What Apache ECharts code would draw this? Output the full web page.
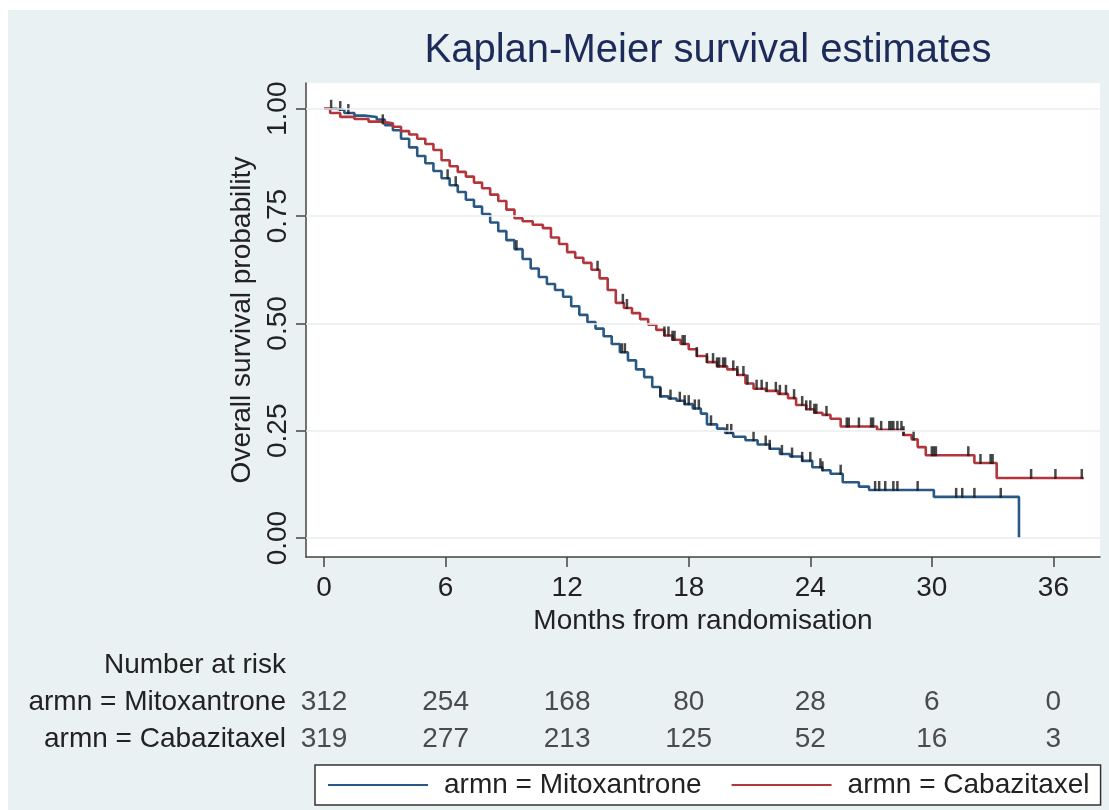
<!DOCTYPE html>
<html>
<head>
<meta charset="utf-8">
<script src="https://cdn.jsdelivr.net/npm/echarts@6/dist/echarts.min.js"></script>
<style>
html,body{margin:0;padding:0;background:#fff;}
#chart{width:1109px;height:810px;}
</style>
</head>
<body>
<div id="chart"></div>
<script>
// ---- data ----
const months = [0, 6, 12, 18, 24, 30, 36];
const yTicks = [0, 0.25, 0.5, 0.75, 1];
const riskMitox = [312, 254, 168, 80, 28, 6, 0];
const riskCabaz = [319, 277, 213, 125, 52, 16, 3];

const mitoxTime = [0,0.6,1.0,1.5,2.0,2.6,3.0,3.4,3.8,4.2,4.6,5.0,5.4,5.8,6.2,6.6,7.0,7.4,7.8,8.2,8.6,9.0,9.4,9.8,10.2,10.6,11.0,11.4,11.8,12.2,12.6,13.0,13.4,13.8,14.2,14.6,15.0,15.4,15.8,16.2,16.6,17.0,17.4,17.8,18.2,18.6,18.9,19.4,19.8,20.2,20.8,21.4,22.0,22.5,23.0,23.6,24.1,24.6,25.0,25.6,26.4,26.9,30.1,34.3];
const mitoxSurv = [1.000,0.997,0.990,0.984,0.981,0.975,0.962,0.950,0.930,0.910,0.890,0.873,0.855,0.838,0.822,0.806,0.788,0.772,0.755,0.735,0.715,0.694,0.673,0.650,0.628,0.608,0.592,0.578,0.562,0.540,0.520,0.503,0.488,0.470,0.452,0.433,0.414,0.393,0.375,0.352,0.330,0.325,0.320,0.312,0.302,0.290,0.265,0.255,0.245,0.236,0.228,0.218,0.208,0.196,0.190,0.180,0.165,0.158,0.150,0.130,0.120,0.112,0.096,0.000];

const cabazTime = [0,0.3,0.8,1.5,2.2,2.8,3.4,3.8,4.2,4.6,5.0,5.4,5.8,6.2,6.6,7.0,7.4,7.8,8.2,8.6,9.0,9.4,9.8,10.3,10.8,11.2,11.6,12.0,12.4,12.8,13.2,13.6,14.0,14.4,14.8,15.2,15.6,16.0,16.4,16.8,17.2,17.6,18.0,18.4,18.9,19.4,19.9,20.4,20.8,21.2,21.8,22.4,22.9,23.3,23.8,24.2,24.6,25.0,25.5,27.3,28.6,29.0,29.3,29.7,32.1,33.2,37.5];
const cabazSurv = [1.000,0.990,0.981,0.976,0.970,0.966,0.958,0.948,0.940,0.930,0.918,0.904,0.880,0.866,0.853,0.842,0.828,0.815,0.800,0.785,0.765,0.745,0.738,0.730,0.722,0.700,0.685,0.666,0.653,0.641,0.625,0.605,0.578,0.548,0.536,0.524,0.510,0.497,0.485,0.472,0.462,0.452,0.440,0.424,0.410,0.400,0.393,0.380,0.360,0.348,0.343,0.336,0.326,0.310,0.300,0.292,0.287,0.278,0.260,0.252,0.240,0.230,0.212,0.193,0.175,0.140,0.140];

const mitoxCensor = [0.35,0.8,1.2,6.1,6.5,9.5,14.7,14.85,16.6,17.1,17.56,17.8,18.0,18.3,18.5,19.1,19.9,20.1,21.2,21.8,22.0,22.6,23.1,23.6,24.0,24.5,24.6,25.5,27.2,27.4,27.7,28.1,28.3,29.3,31.2,31.5,32.1,33.4];
const cabazCensor = [2.9,13.5,14.75,14.95,16.8,17.0,17.2,17.3,17.7,17.8,18.4,18.9,19.2,19.4,19.5,19.7,19.8,20.2,20.4,20.7,20.9,21.35,21.6,21.85,22.3,22.5,22.8,23.2,23.6,23.8,24.0,24.2,24.3,24.8,25.8,25.9,26.4,27.0,27.1,27.5,27.9,28.0,28.1,28.3,28.5,28.6,29.1,30.0,30.1,30.2,31.8,32.4,32.9,33.0,34.9,36.1,37.4];

// ---- helpers ----
function pairs(t, s) { return t.map((v, i) => [v, s[i]]); }
function survAt(t, s, c) {
  let v = s[0];
  for (let i = 0; i < t.length; i++) { if (t[i] <= c) v = s[i]; else break; }
  return v;
}
function censorPts(t, s, cs) { return cs.map(c => [c, survAt(t, s, c)]); }

const FONT = 'Liberation Sans, Arial, sans-serif';
const TXT = '#222';
const BLUE = '#2a5885';
const RED = '#b3363c';

const chart = echarts.init(document.getElementById('chart'));
const X_MIN = -0.89, X_MAX = 38.3;

const option = {
  animation: false,
  backgroundColor: '#ffffff',
  textStyle: { fontFamily: FONT },
  graphic: [
    { type: 'rect', z: -10, shape: { x: 8, y: 10, width: 1101, height: 800 }, style: { fill: '#eaf1f3' } },
    { type: 'text', x: 286, y: 665, style: { text: 'Number at risk', font: '28px ' + FONT, fill: TXT, textAlign: 'right', textVerticalAlign: 'middle' } }
  ],
  title: {
    text: 'Kaplan-Meier survival estimates',
    left: 703, top: 26, textAlign: 'center',
    textStyle: { fontFamily: FONT, fontSize: 40, fontWeight: 'normal', color: '#1d2b5a' }
  },
  legend: {
    data: ['armn = Mitoxantrone', 'armn = Cabazitaxel'],
    left: 315, top: 765,
    icon: 'rect', itemWidth: 100, itemHeight: 2, itemGap: 30,
    backgroundColor: '#ffffff', borderColor: '#333', borderWidth: 1.5,
    padding: [6, 11, 6, 13],
    textStyle: { fontFamily: FONT, fontSize: 28, color: TXT, padding: [0, 0, 0, 11] }
  },
  grid: [
    { left: 306, top: 83, width: 794, height: 474, show: true, backgroundColor: '#ffffff', borderWidth: 0 },
    { left: 306, top: 684, width: 794, height: 74, show: false }
  ],
  xAxis: [
    {
      type: 'value', gridIndex: 0, min: X_MIN, max: X_MAX,
      name: 'Months from randomisation', nameLocation: 'middle', nameGap: 42,
      nameTextStyle: { fontFamily: FONT, fontSize: 28, color: TXT },
      axisLine: { show: true, onZero: false, lineStyle: { color: '#444', width: 1.5 } },
      axisTick: { show: true, customValues: months, length: 10, lineStyle: { color: '#444', width: 1.5 } },
      axisLabel: { customValues: months, fontFamily: FONT, fontSize: 28, color: TXT, margin: 17 },
      splitLine: { show: false }
    },
    {
      type: 'value', gridIndex: 1, min: X_MIN, max: X_MAX, show: false
    }
  ],
  yAxis: [
    {
      type: 'value', gridIndex: 0, min: -0.044, max: 1.06,
      name: 'Overall survival probability', nameLocation: 'middle', nameGap: 46, nameRotate: 90,
      nameTextStyle: { fontFamily: FONT, fontSize: 28, color: TXT },
      axisLine: { show: true, onZero: false, lineStyle: { color: '#444', width: 1.5 } },
      axisTick: { show: true, customValues: yTicks, length: 10, lineStyle: { color: '#444', width: 1.5 } },
      axisLabel: { customValues: yTicks, rotate: 90, formatter: v => v.toFixed(2), fontFamily: FONT, fontSize: 28, color: TXT, margin: 14 },
      splitLine: { show: false }
    },
    {
      type: 'category', gridIndex: 1, data: ['Cabazitaxel', 'Mitoxantrone'],
      axisLine: { show: false }, axisTick: { show: false },
      axisLabel: { formatter: n => 'armn = ' + n, fontFamily: FONT, fontSize: 28, color: TXT, margin: 20 }
    }
  ],
  series: [
    {
      type: 'line', name: 'gridlines', xAxisIndex: 0, yAxisIndex: 0, data: [], z: 1, silent: true,
      markLine: {
        silent: true, symbol: 'none', label: { show: false }, animation: false,
        lineStyle: { color: '#e9eef0', width: 1.5, type: 'solid' },
        data: yTicks.map(v => ({ yAxis: v }))
      }
    },
    {
      type: 'line', name: 'armn = Mitoxantrone', xAxisIndex: 0, yAxisIndex: 0, z: 3,
      step: 'end', showSymbol: false, symbol: 'none',
      color: BLUE, lineStyle: { color: BLUE, width: 2.6 },
      data: pairs(mitoxTime, mitoxSurv)
    },
    {
      type: 'line', name: 'armn = Cabazitaxel', xAxisIndex: 0, yAxisIndex: 0, z: 3,
      step: 'end', showSymbol: false, symbol: 'none',
      color: RED, lineStyle: { color: RED, width: 2.6 },
      data: pairs(cabazTime, cabazSurv)
    },
    {
      type: 'scatter', name: 'censMitox', xAxisIndex: 0, yAxisIndex: 0, z: 4, silent: true,
      symbol: 'rect', symbolSize: [2.5, 10], symbolOffset: [0, -4],
      itemStyle: { color: '#1a1a1a' },
      data: censorPts(mitoxTime, mitoxSurv, mitoxCensor)
    },
    {
      type: 'scatter', name: 'censCabaz', xAxisIndex: 0, yAxisIndex: 0, z: 4, silent: true,
      symbol: 'rect', symbolSize: [2.5, 10], symbolOffset: [0, -4],
      itemStyle: { color: '#1a1a1a' },
      data: censorPts(cabazTime, cabazSurv, cabazCensor)
    },
    {
      type: 'scatter', name: 'riskTable', xAxisIndex: 1, yAxisIndex: 1, silent: true,
      symbolSize: 0,
      label: { show: true, position: 'inside', formatter: p => String(p.value[2]), fontFamily: FONT, fontSize: 28, color: TXT },
      data: months.map((m, i) => [m, 'Mitoxantrone', riskMitox[i]])
        .concat(months.map((m, i) => [m, 'Cabazitaxel', riskCabaz[i]]))
    }
  ]
};
chart.setOption(option);
</script>
</body>
</html>
